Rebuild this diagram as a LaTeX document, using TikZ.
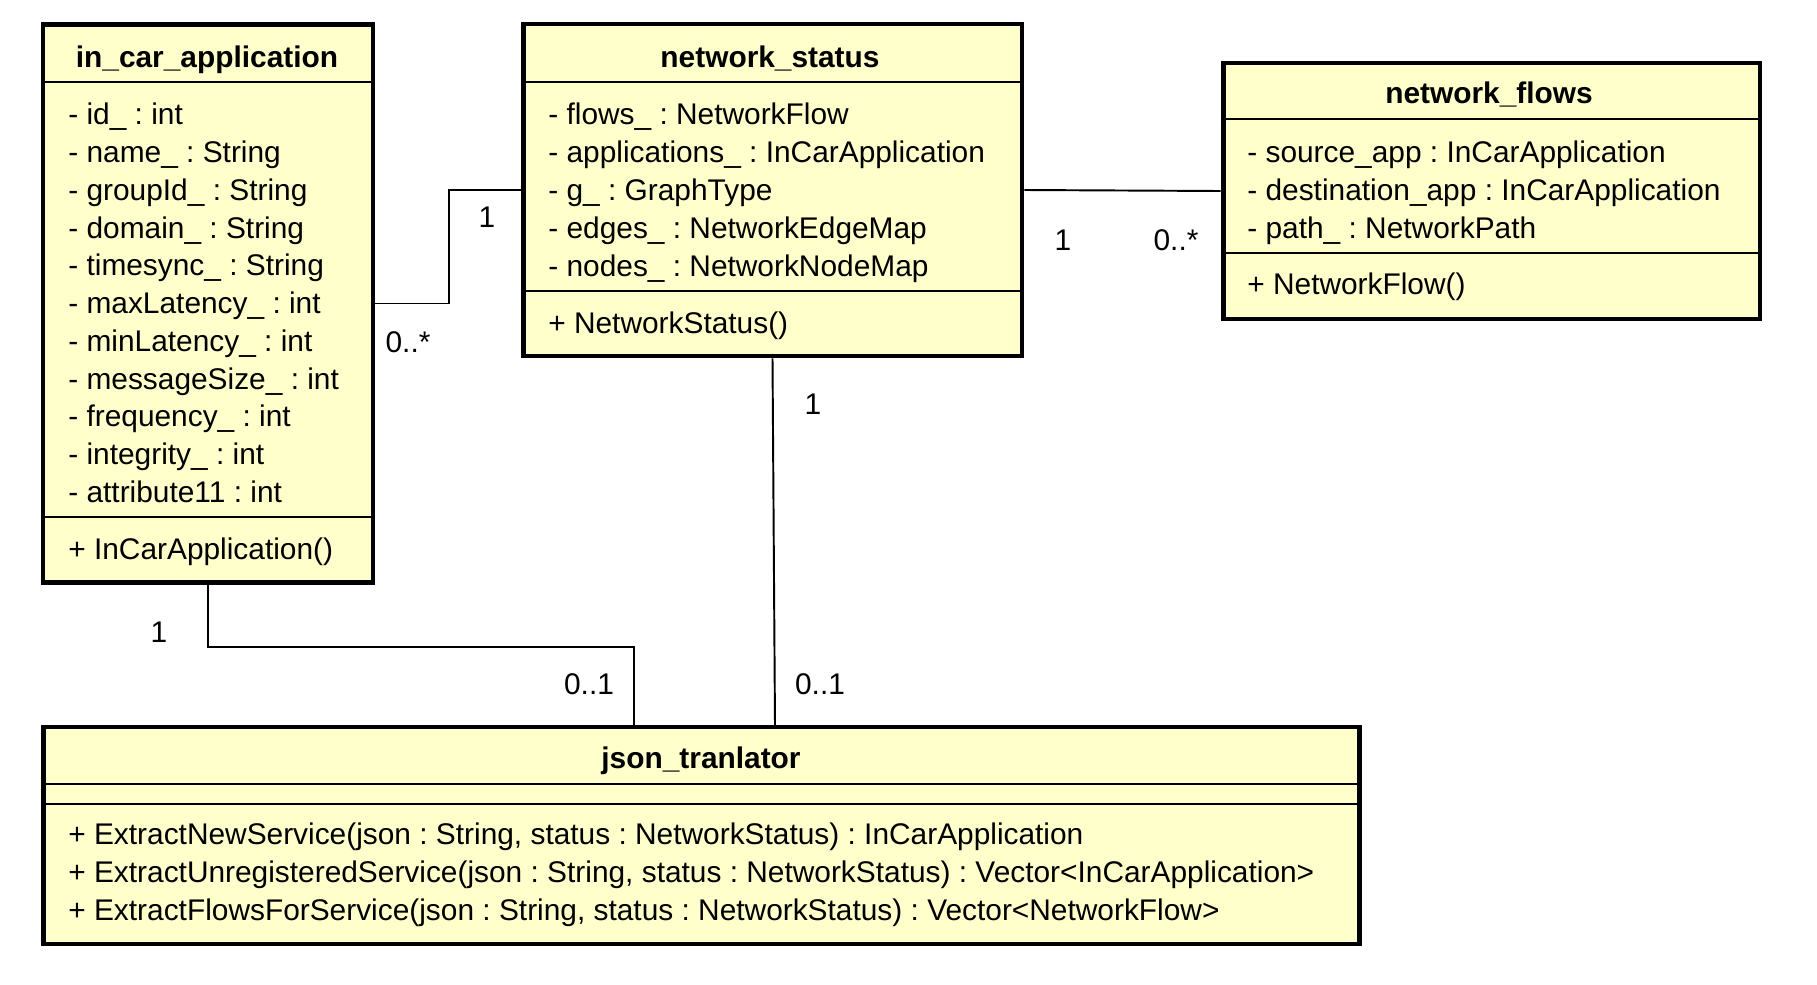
\documentclass[tikz,border=0pt]{standalone}
\usepackage{fontspec}
\setmainfont{Liberation Sans}
\usepackage{tikz}
\definecolor{umlyellow}{HTML}{FFFFCC}

\begin{document}
\frenchspacing
\begin{tikzpicture}[x=0.02cm, y=-0.02cm]
  \useasboundingbox (0,0) rectangle (1817,984);

  % Define styles for the class boxes, texts and lines
  \tikzset{
    classbox/.style={draw, line width=2.8pt, fill=umlyellow},
    sepline/.style={line width=1pt, black},
    assoc/.style={line width=1.1pt, black},
    classtitle/.style={font=\fontsize{17}{21.5}\selectfont\bfseries, inner sep=0pt, anchor=base},
    members/.style={font=\fontsize{17}{21.5}\selectfont, align=left, inner sep=0pt, anchor=base west},
    mult/.style={font=\fontsize{17}{21.5}\selectfont, inner sep=0pt}
  }

  % Draw the class boxes
  \node[classbox, minimum width=6.6cm, minimum height=11.18cm] (icar) at (208,303.5) {};
  \node[classbox, minimum width=9.98cm, minimum height=6.64cm] (nstat) at (772.5,190) {};
  \node[classbox, minimum width=10.74cm, minimum height=5.12cm] (nflows) at (1491.5,191) {};
  \node[classbox, minimum width=26.34cm, minimum height=4.34cm] (json) at (701.5,835.5) {};

  % Draw the compartment lines
  \draw[sepline] (44,82) -- (372,82);
  \draw[sepline] (44,517) -- (372,517);
  \draw[sepline] (524,82) -- (1021,82);
  \draw[sepline] (524,291) -- (1021,291);
  \draw[sepline] (1224,119) -- (1759,119);
  \draw[sepline] (1224,253) -- (1759,253);
  \draw[sepline] (44,784) -- (1359,784);
  \draw[sepline] (44,804) -- (1359,804);

  % Class names
  \node[classtitle] (icar-name) at (207,67) {in\_car\_application};
  \node[classtitle] (nstat-name) at (770,67) {network\_status};
  \node[classtitle] (nflows-name) at (1489,103) {network\_flows};
  \node[classtitle] (json-name) at (701,768) {json\_tranlator};

  % Attributes and operations (base = last line)
  \node[members] (icar-attr) at (68,502.5) {- id\_ : int\\- name\_ : String\\- groupId\_ : String\\- domain\_ : String\\- timesync\_ : String\\- maxLatency\_ : int\\- minLatency\_ : int\\- messageSize\_ : int\\- frequency\_ : int\\- integrity\_ : int\\- attribute11 : int};
  \node[members] (icar-ops) at (68,559) {+ InCarApplication()};
  \node[members] (nstat-attr) at (548,276) {- flows\_ : NetworkFlow\\- applications\_ : InCarApplication\\- g\_ : GraphType\\- edges\_ : NetworkEdgeMap\\- nodes\_ : NetworkNodeMap};
  \node[members] (nstat-ops) at (548,333) {+ NetworkStatus()};
  \node[members] (nflows-attr) at (1247,238.5) {- source\_app : InCarApplication\\- destination\_app : InCarApplication\\- path\_ : NetworkPath};
  \node[members] (nflows-ops) at (1247,294) {+ NetworkFlow()};
  \node[members] (json-ops) at (68,920.5) {+ ExtractNewService(json : String, status : NetworkStatus) : InCarApplication\\+ ExtractUnregisteredService(json : String, status : NetworkStatus) : Vector<InCarApplication>\\+ ExtractFlowsForService(json : String, status : NetworkStatus) : Vector<NetworkFlow>};

  % Draw the associations
  \coordinate (jtop1) at (634,727);
  \coordinate (jtop2) at (775,727);
  \draw[assoc] (icar.east) -- ++(74,0) |- (nstat.west);
  \draw[assoc] (nstat.east) -- (nflows.west);
  \draw[assoc] (nstat.south) -- (jtop2);
  \draw[assoc] (icar.south) -- ++(0,62) -| (jtop1);

  % Multiplicities
  \node[mult] (m-icar-nstat) at (408,342) {0..*};
  \node[mult] (m-nstat-icar) at (487,217) {1};
  \node[mult] (m-nstat-nflows) at (1063,240) {1};
  \node[mult] (m-nflows-nstat) at (1176,240) {0..*};
  \node[mult] (m-nstat-json) at (813,404) {1};
  \node[mult] (m-json-nstat) at (820,684) {0..1};
  \node[mult] (m-icar-json) at (159,632) {1};
  \node[mult] (m-json-icar) at (589,684) {0..1};

\end{tikzpicture}
\end{document}
